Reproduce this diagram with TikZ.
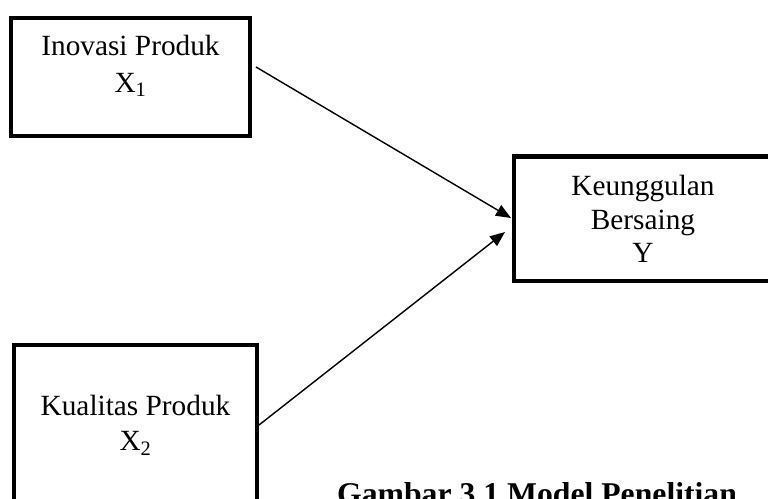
\documentclass[tikz,border=0pt]{standalone}
\usepackage{fontspec}
\setmainfont{Liberation Serif}
\usetikzlibrary{arrows.meta}
\tikzset{
  varbox/.style={draw=black, line width=4.5pt, rectangle, inner sep=0pt, outer sep=0pt},
  lbl/.style={anchor=base, inner sep=0pt, font=\fontsize{29.3}{33}\selectfont},
  link/.style={line width=1.4pt, -{Triangle[length=15pt,width=12pt]}},
  capt/.style={anchor=base west, inner sep=0pt, font=\fontsize{31.7}{36}\selectfont\bfseries}
}
\begin{document}
\begin{tikzpicture}[x=1pt,y=-1pt]
\useasboundingbox (0,0) rectangle (768,498);
\clip (0,0) rectangle (768,498);
% boxes
\node[varbox, minimum width=239pt, minimum height=118pt] (b1) at (130.5,77) {};
\node[varbox, minimum width=258pt, minimum height=124.5pt] (by) at (643,218.75) {};
\node[varbox, minimum width=243pt, minimum height=195pt] (b2) at (135.5,442.5) {};
% labels
\node[lbl] (t1a) at (130.5,55) {Inovasi Produk};
\node[lbl] (t1b) at (130.5,92) {X\textsubscript{1}};
\node[lbl] (tya) at (643,195) {Keunggulan};
\node[lbl] (tyb) at (643,229) {Bersaing};
\node[lbl] (tyc) at (643,262) {Y};
\node[lbl] (t2a) at (135.5,415) {Kualitas Produk};
\node[lbl] (t2b) at (135.5,450) {X\textsubscript{2}};
% connector end points
\coordinate (s1) at (256,67);
\coordinate (e1) at (511,218);
\coordinate (s2) at (259,425);
\coordinate (e2) at (505,232);
\draw[link] (s1) -- (e1);
\draw[link] (s2) -- (e2);
% caption
\node[capt] (cap) at (337,504) {Gambar 3.1 Model Penelitian};
\end{tikzpicture}
\end{document}
